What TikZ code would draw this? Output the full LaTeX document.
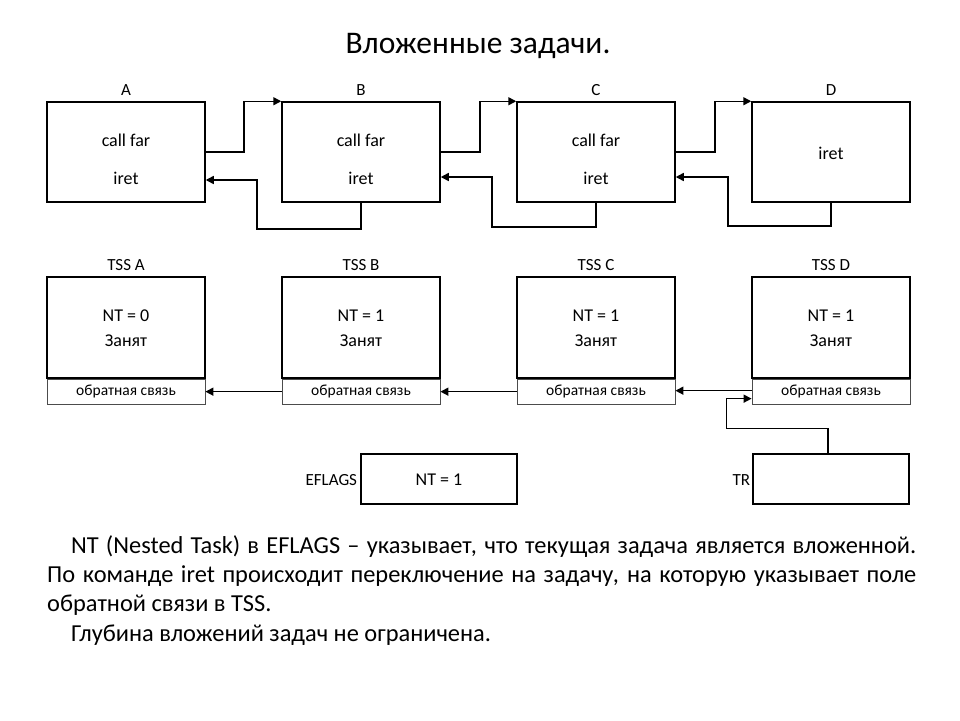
\documentclass[tikz,border=0pt]{standalone}
\usepackage{fontspec}
\setmainfont{Carlito}
\usetikzlibrary{arrows.meta,calc}
\tikzset{
  box/.style={draw, line width=1.5pt, minimum width=158pt, minimum height=100pt, inner sep=0pt},
  fbbox/.style={draw=black!70, line width=0.8pt, minimum width=158pt, minimum height=25pt, inner sep=0pt, font=\fontsize{15.5}{18}\selectfont},
  smallbox/.style={draw, line width=1.5pt, minimum width=156pt, minimum height=50pt, inner sep=0pt},
  lbl/.style={font=\fontsize{17}{19}\selectfont, inner sep=0pt},
  txt/.style={font=\fontsize{18}{21}\selectfont, inner sep=0pt},
  conn/.style={line width=1.5pt, -{Triangle[length=8pt,width=8pt]}},
}
\begin{document}
\begin{tikzpicture}[x=1pt,y=-1pt]
\useasboundingbox (0,0) rectangle (960,720);
% title
\node[font=\fontsize{31.5}{36}\selectfont, inner sep=0pt] (title) at (478,46) {Вложенные задачи.};
% task boxes
\node[box] (A) at (126,152) {};
\node[box] (B) at (361,152) {};
\node[box] (C) at (596,152) {};
\node[box] (D) at (831,152) {};
\node[lbl] (lA) at (126,90) {A};
\node[lbl] (lB) at (361,90) {B};
\node[lbl] (lC) at (596,90) {C};
\node[lbl] (lD) at (831,90) {D};
\node[txt] (cA) at (126,140) {call far};
\node[txt] (iA) at (126,178) {iret};
\node[txt] (cB) at (361,140) {call far};
\node[txt] (iB) at (361,178) {iret};
\node[txt] (cC) at (596,140) {call far};
\node[txt] (iC) at (596,178) {iret};
\node[txt] (iD) at (831,153) {iret};
% forward arrows
\draw[conn] (A.east) -- ++(38,0) |- (B.north west);
\draw[conn] (B.east) -- ++(39,0) |- (C.north west);
\draw[conn] (C.east) -- ++(39,0) |- (D.north west);
% return arrows
\draw[conn] (B.south) -- ++(0,26) -| ($(A.east)+(51,28)$) -- ($(A.east)+(0,28)$);
\draw[conn] (C.south) -- ++(0,24) -| ($(B.east)+(51,25)$) -- ($(B.east)+(0,25)$);
\draw[conn] (D.south) -- ++(0,23) -| ($(C.east)+(52,25)$) -- ($(C.east)+(0,25)$);
% TSS
\node[box, minimum height=101pt] (TA) at (126,327.5) {};
\node[box, minimum height=101pt] (TB) at (361,327.5) {};
\node[box, minimum height=101pt] (TC) at (596,327.5) {};
\node[box, minimum height=101pt] (TD) at (831,327.5) {};
\node[lbl] (lTA) at (126,265) {TSS A};
\node[lbl] (lTB) at (361,265) {TSS B};
\node[lbl] (lTC) at (596,265) {TSS C};
\node[lbl] (lTD) at (831,265) {TSS D};
\node[txt] (nA) at (126,316) {NT = 0};
\node[txt] (zA) at (126,341) {Занят};
\node[txt] (nB) at (361,316) {NT = 1};
\node[txt] (zB) at (361,341) {Занят};
\node[txt] (nC) at (596,316) {NT = 1};
\node[txt] (zC) at (596,341) {Занят};
\node[txt] (nD) at (831,316) {NT = 1};
\node[txt] (zD) at (831,341) {Занят};
\node[fbbox, anchor=north] (fA) at (TA.south) {обратная связь};
\node[fbbox, anchor=north] (fB) at (TB.south) {обратная связь};
\node[fbbox, anchor=north] (fC) at (TC.south) {обратная связь};
\node[fbbox, anchor=north] (fD) at (TD.south) {обратная связь};
\draw[conn] (fB.west) -- (fA.east);
\draw[conn] (fC.west) -- (fB.east);
\draw[conn] ($(fD.west)+(0,-1)$) -- ($(fC.east)+(0,-1)$);
% EFLAGS and TR
\node[smallbox] (EF) at (439,479) {};
\node[txt] (efT) at (439,480) {NT = 1};
\node[lbl, anchor=east] (efL) at ($(EF.west)+(-3,1)$) {EFLAGS};
\node[smallbox] (TR) at (831,479) {};
\node[lbl, anchor=east] (trL) at ($(TR.west)+(-2,1)$) {TR};
\draw[conn] ($(TR.north)+(-3,0)$) -- ++(0,-25) -| ($(fD.west)+(-25,7)$) -- ($(fD.west)+(0,7)$);
% text
\node[anchor=base west, inner sep=0pt] (para) at (47,553) {\parbox[t]{869pt}{\fontsize{24.4}{29.4}\selectfont
\hspace*{24pt}NT (Nested Task) в EFLAGS – указывает, что текущая задача является вложенной.\linebreak
По команде iret происходит переключение на задачу, на которую указывает поле\linebreak
обратной связи в TSS.\par
\hspace*{24pt}Глубина вложений задач не ограничена.}};
\end{tikzpicture}
\end{document}
